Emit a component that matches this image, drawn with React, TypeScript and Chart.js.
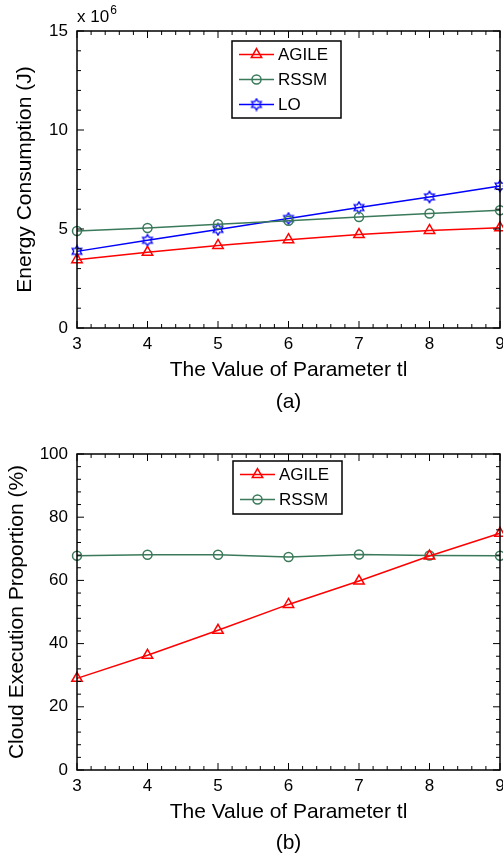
import React, { useEffect, useRef } from 'react';
import { Chart, registerables } from 'chart.js';

Chart.register(...registerables);

// ---- data ----
const xValues = [3, 4, 5, 6, 7, 8, 9];
const energyAgile = [3.45, 3.82, 4.17, 4.46, 4.72, 4.93, 5.06];
const energyRssm = [4.9, 5.05, 5.24, 5.42, 5.6, 5.78, 5.95];
const energyLo = [3.87, 4.43, 4.98, 5.53, 6.08, 6.62, 7.17];
const cloudAgile = [29.0, 36.3, 44.2, 52.4, 59.8, 67.7, 74.9];
const cloudRssm = [67.8, 68.1, 68.1, 67.4, 68.2, 67.9, 67.8];

const seriesNames = ['AGILE', 'RSSM', 'LO'];
const xTitle = 'The Value of Parameter tl';
const yTitleA = 'Energy Consumption (J)';
const yTitleB = 'Cloud Execution Proportion (%)';
const xRange = [3, 9];
const yRangeA = [0, 15];
const yRangeB = [0, 100];
const yStepA = 5;
const yStepB = 20;
const xMinorStep = 0.2;
const yMinorStepA = 1;
const yMinorStepB = 4;

const FONT = '"Liberation Sans", Arial, Helvetica, sans-serif';
const RED = '#ff0000';
const GREEN = '#3a7a5a';
const BLUE = '#0000ff';
const CANVAS_W = 520;

function makeHexagram(color: string): HTMLCanvasElement {
  const c = document.createElement('canvas');
  c.width = 14;
  c.height = 14;
  const g = c.getContext('2d')!;
  const cx = 7, cy = 7, R = 5.6, r = R / Math.sqrt(3);
  g.strokeStyle = color;
  g.lineWidth = 1.3;
  g.beginPath();
  for (let i = 0; i < 12; i++) {
    const ang = -Math.PI / 2 + (i * Math.PI) / 6;
    const rad = i % 2 === 0 ? R : r;
    const px = cx + Math.cos(ang) * rad;
    const py = cy + Math.sin(ang) * rad;
    if (i === 0) g.moveTo(px, py);
    else g.lineTo(px, py);
  }
  g.closePath();
  g.stroke();
  return c;
}

function drawMarker(ctx: CanvasRenderingContext2D, ds: any, x: number, y: number) {
  const style = ds.pointStyle;
  const rad = ds.pointRadius;
  ctx.save();
  ctx.strokeStyle = ds.borderColor;
  ctx.lineWidth = ds.pointBorderWidth;
  if (style === 'triangle') {
    ctx.beginPath();
    let a = 0;
    ctx.moveTo(x + Math.sin(a) * rad, y - Math.cos(a) * rad);
    a += (2 * Math.PI) / 3;
    ctx.lineTo(x + Math.sin(a) * rad, y - Math.cos(a) * rad);
    a += (2 * Math.PI) / 3;
    ctx.lineTo(x + Math.sin(a) * rad, y - Math.cos(a) * rad);
    ctx.closePath();
    ctx.stroke();
  } else if (style === 'circle') {
    ctx.beginPath();
    ctx.arc(x, y, rad, 0, Math.PI * 2);
    ctx.stroke();
  } else if (style && style.width) {
    ctx.drawImage(style, x - style.width / 2, y - style.height / 2);
  }
  ctx.restore();
}

const framePlugin = {
  id: 'frame',
  afterDraw(chart: any, _args: any, opts: any) {
    const { ctx, chartArea: a, scales } = chart;
    const xs = scales.x;
    const ys = scales.y;
    ctx.save();
    ctx.strokeStyle = '#000';
    ctx.lineWidth = 1;
    const seg = (x1: number, y1: number, x2: number, y2: number) => {
      ctx.beginPath();
      ctx.moveTo(x1, y1);
      ctx.lineTo(x2, y2);
      ctx.stroke();
    };
    const major = 7, minor = 4;
    const xn = Math.round((xs.max - xs.min) / opts.xMinor);
    for (let i = 0; i <= xn; i++) {
      const v = xs.min + i * opts.xMinor;
      const px = xs.getPixelForValue(v);
      const len = Math.abs(v - Math.round(v / opts.xMajor) * opts.xMajor) < 1e-6 ? major : minor;
      seg(px, a.bottom, px, a.bottom - len);
      seg(px, a.top, px, a.top + len);
    }
    const yn = Math.round((ys.max - ys.min) / opts.yMinor);
    for (let i = 0; i <= yn; i++) {
      const v = ys.min + i * opts.yMinor;
      const py = ys.getPixelForValue(v);
      const len = Math.abs(v - Math.round(v / opts.yMajor) * opts.yMajor) < 1e-6 ? major : minor;
      seg(a.left, py, a.left + len, py);
      seg(a.right, py, a.right - len, py);
    }
    ctx.lineWidth = 1.5;
    ctx.strokeRect(a.left, a.top, a.right - a.left, a.bottom - a.top);

    // legend
    const L = opts.legend;
    const dss = chart.data.datasets;
    ctx.fillStyle = '#fff';
    ctx.fillRect(L.left, L.top, L.width, L.height);
    ctx.lineWidth = 1.5;
    ctx.strokeStyle = '#000';
    ctx.strokeRect(L.left, L.top, L.width, L.height);
    ctx.font = `17px ${FONT}`;
    ctx.textBaseline = 'middle';
    ctx.textAlign = 'left';
    dss.forEach((ds: any, i: number) => {
      const ry = L.top + 13.5 + i * 25;
      ctx.strokeStyle = ds.borderColor;
      ctx.lineWidth = ds.borderWidth;
      seg(L.left + 7, ry, L.left + 42, ry);
      drawMarker(ctx, ds, L.left + 24.5, ry);
      ctx.fillStyle = '#000';
      ctx.fillText(ds.label, L.left + 46, ry + 1);
    });

    if (opts.exponent) {
      ctx.fillStyle = '#000';
      ctx.textBaseline = 'alphabetic';
      ctx.textAlign = 'left';
      ctx.font = `17px ${FONT}`;
      const base = 'x 10';
      ctx.fillText(base, a.left, 22);
      const w = ctx.measureText(base).width;
      ctx.font = `12px ${FONT}`;
      ctx.fillText(opts.exponent, a.left + w + 1, 14);
    }

    if (opts.caption) {
      ctx.fillStyle = '#000';
      ctx.font = `21px ${FONT}`;
      ctx.textAlign = 'center';
      ctx.textBaseline = 'middle';
      ctx.fillText(opts.caption, (a.left + a.right) / 2, opts.captionY);
    }
    ctx.restore();
  },
};

function toPoints(ys: number[]) {
  return xValues.map((x, i) => ({ x, y: ys[i] }));
}

function makeDataset(label: string, values: number[], color: string, pointStyle: any, radius: number) {
  return {
    label,
    data: toPoints(values),
    borderColor: color,
    backgroundColor: color,
    borderWidth: 1.5,
    pointStyle,
    pointRadius: radius,
    pointBorderWidth: 1.5,
    pointBackgroundColor: 'rgba(0,0,0,0)',
    pointBorderColor: color,
    tension: 0,
    clip: false,
  };
}

function buildOptions(cfg: any) {
  return {
    animation: false,
    responsive: false,
    devicePixelRatio: 1,
    layout: { padding: { top: cfg.padTop, right: CANVAS_W - 500, left: 0, bottom: 0 } },
    plugins: {
      legend: { display: false },
      tooltip: { enabled: false },
      frame: cfg.frame,
    },
    scales: {
      x: {
        type: 'linear',
        min: xRange[0],
        max: xRange[1],
        ticks: { stepSize: 1, padding: 6, color: '#000', font: { family: FONT, size: 17 } },
        grid: { display: false, drawTicks: false },
        border: { display: false },
        title: {
          display: true,
          text: xTitle,
          color: '#000',
          font: { family: FONT, size: 21 },
          padding: { top: 0, bottom: cfg.xTitlePad },
        },
        afterFit: (s: any) => {
          s.height = cfg.xHeight;
          s.paddingLeft = 0;
          s.paddingRight = 0;
        },
      },
      y: {
        type: 'linear',
        min: cfg.yRange[0],
        max: cfg.yRange[1],
        ticks: { stepSize: cfg.yStep, padding: 9, color: '#000', font: { family: FONT, size: 17 } },
        grid: { display: false, drawTicks: false },
        border: { display: false },
        title: {
          display: true,
          text: cfg.yTitle,
          color: '#000',
          font: { family: FONT, size: 21 },
          padding: { top: cfg.yTitlePad, bottom: 0 },
        },
        afterFit: (s: any) => {
          s.width = 77;
          s.paddingTop = 0;
          s.paddingBottom = 0;
        },
      },
    },
  };
}

export default function App() {
  const refA = useRef<HTMLCanvasElement>(null);
  const refB = useRef<HTMLCanvasElement>(null);

  useEffect(() => {
    const hex = makeHexagram(BLUE);
    const chartA = new Chart(refA.current!, {
      type: 'line',
      data: {
        datasets: [
          makeDataset(seriesNames[0], energyAgile, RED, 'triangle', 6),
          makeDataset(seriesNames[1], energyRssm, GREEN, 'circle', 4.5),
          makeDataset(seriesNames[2], energyLo, BLUE, hex, 5),
        ],
      },
      options: buildOptions({
        padTop: 31,
        xHeight: 92,
        xTitlePad: 37.4,
        yRange: yRangeA,
        yStep: yStepA,
        yTitle: yTitleA,
        yTitlePad: 12.4,
        frame: {
          xMinor: xMinorStep,
          xMajor: 1,
          yMinor: yMinorStepA,
          yMajor: yStepA,
          legend: { left: 232, top: 41, width: 109, height: 77 },
          exponent: '6',
          caption: '(a)',
          captionY: 402,
        },
      }) as any,
      plugins: [framePlugin],
    });
    const chartB = new Chart(refB.current!, {
      type: 'line',
      data: {
        datasets: [
          makeDataset(seriesNames[0], cloudAgile, RED, 'triangle', 6),
          makeDataset(seriesNames[1], cloudRssm, GREEN, 'circle', 4.5),
        ],
      },
      options: buildOptions({
        padTop: 34,
        xHeight: 89,
        xTitlePad: 33.7,
        yRange: yRangeB,
        yStep: yStepB,
        yTitle: yTitleB,
        yTitlePad: 4.4,
        frame: {
          xMinor: xMinorStep,
          xMajor: 1,
          yMinor: yMinorStepB,
          yMajor: yStepB,
          legend: { left: 233, top: 41, width: 109, height: 53 },
          exponent: '',
          caption: '(b)',
          captionY: 423,
        },
      }) as any,
      plugins: [framePlugin],
    });
    return () => {
      chartA.destroy();
      chartB.destroy();
    };
  }, []);

  return (
    <div style={{ position: 'absolute', left: 0, top: 0, width: 503, height: 859, background: '#fff', overflow: 'hidden' }}>
      <canvas ref={refA} width={CANVAS_W} height={420} style={{ position: 'absolute', left: 0, top: 0, display: 'block' }} />
      <canvas ref={refB} width={CANVAS_W} height={439} style={{ position: 'absolute', left: 0, top: 420, display: 'block' }} />
    </div>
  );
}
